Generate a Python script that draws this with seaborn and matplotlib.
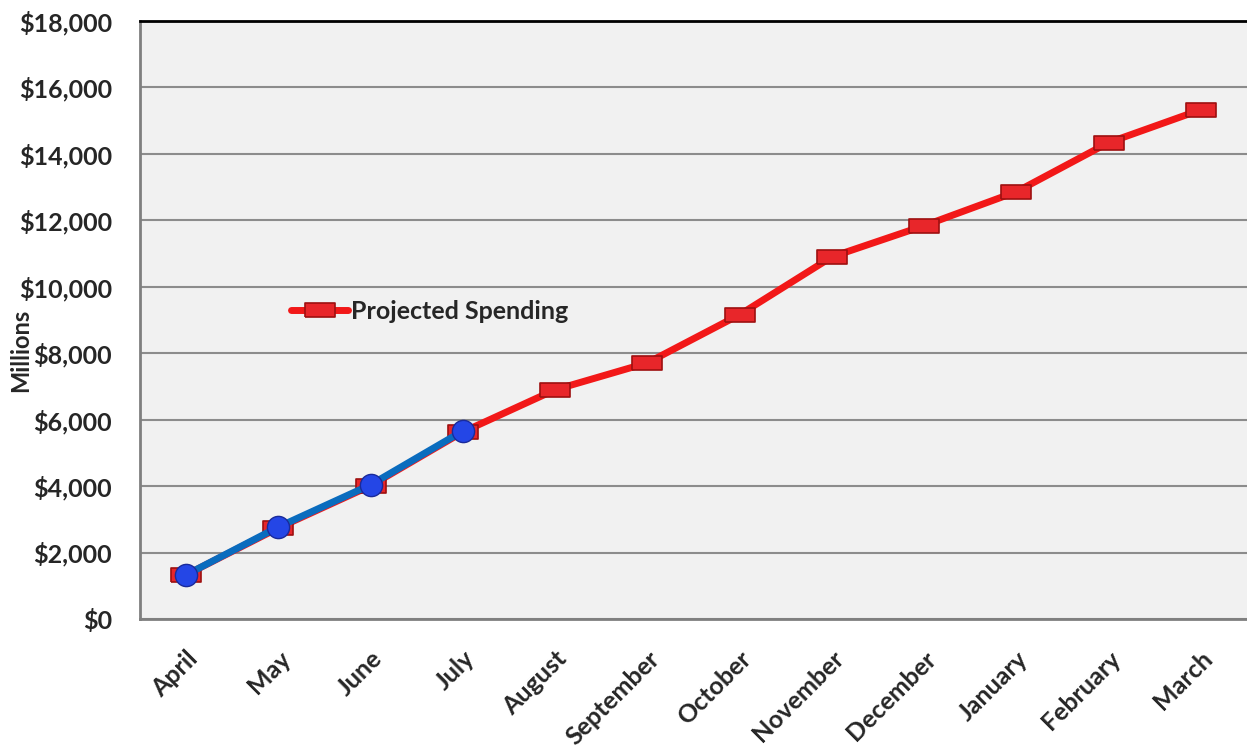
import matplotlib
matplotlib.use("Agg")
import matplotlib.pyplot as plt
import seaborn as sns
import pandas as pd
import numpy as np
from matplotlib.ticker import FuncFormatter

months = ["April", "May", "June", "July", "August", "September", "October",
          "November", "December", "January", "February", "March"]
projected = [1330, 2740, 4010, 5630, 6900, 7710, 9160, 10900, 11840, 12860, 14340, 15330]
actual_months = ["April", "May", "June", "July"]
actual = [1330, 2770, 4040, 5660]

sns.set_theme(style="white")
plt.rcParams['font.family'] = ['Lato', 'DejaVu Sans']

fig = plt.figure(figsize=(12.47, 7.54), dpi=100)
ax = fig.add_axes([140/1247, 1 - 619/754, (1247 - 140)/1247, (619 - 21)/754])
ax.set_facecolor("#F1F1F1")

df_p = pd.DataFrame({"month": months, "value": projected, "x": np.arange(len(months))})
df_a = pd.DataFrame({"month": actual_months, "value": actual, "x": np.arange(len(actual_months))})

rect = [(-1, -0.45), (1, -0.45), (1, 0.45), (-1, 0.45), (-1, -0.45)]

sns.lineplot(data=df_p, x="x", y="value", ax=ax, color="#F21818", lw=5,
             marker=rect, markersize=22, markerfacecolor="#E8262A",
             markeredgecolor="#9E1010", markeredgewidth=1.2,
             label="Projected Spending", zorder=3)
sns.lineplot(data=df_a, x="x", y="value", ax=ax, color="#0A6CBE", lw=5,
             marker="o", markersize=16, markerfacecolor="#2446E6",
             markeredgecolor="#1A2A9A", markeredgewidth=1.0,
             legend=False, zorder=4)

ax.set_xlim(-0.5, len(months) - 0.5)
ax.set_ylim(0, 18000)
ax.set_yticks(np.arange(0, 18001, 2000))
ax.yaxis.set_major_formatter(FuncFormatter(lambda v, p: f"${v:,.0f}"))
ax.set_xticks(np.arange(len(months)))
ax.set_xticklabels(months, rotation=45, ha="right", rotation_mode="anchor")
ax.grid(axis="y", color="#8C8C8C", lw=1.5)
ax.set_axisbelow(True)

for lab in ax.get_yticklabels():
    lab.set_fontsize(18)
    lab.set_fontweight("bold")
for lab in ax.get_xticklabels():
    lab.set_fontsize(18)
    lab.set_fontweight("bold")

ax.tick_params(axis="x", direction="in", length=6, width=1.2, color="#808080", pad=20)
ax.tick_params(axis="y", length=0, pad=20)

for s in ["left", "bottom"]:
    ax.spines[s].set_color("#7F7F7F")
    ax.spines[s].set_linewidth(2)
ax.spines["top"].set_color("#000000")
ax.spines["top"].set_linewidth(2)
ax.spines["right"].set_visible(False)

ax.set_xlabel("")
ax.set_ylabel("")
fig.text(21/1247, 1 - 350/754, "Millions", rotation=90, ha="center", va="center",
         fontsize=17, fontweight="bold")

leg = ax.legend(loc="center left", bbox_to_anchor=(0.125, 0.515), frameon=False,
                fontsize=18, handlelength=2.3, handletextpad=0.1, borderpad=0)
for t in leg.get_texts():
    t.set_fontweight("bold")

fig.savefig("out.png", dpi=100, facecolor="white")
